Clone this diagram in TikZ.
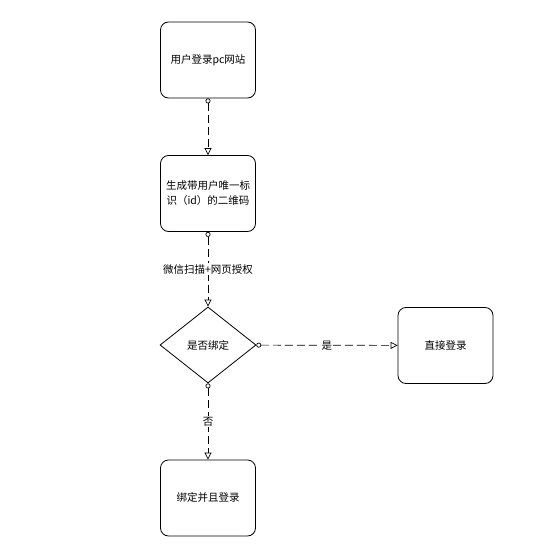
\documentclass[tikz,border=0pt]{standalone}
\usepackage{fontspec}
\setmainfont{Noto Sans CJK SC}
\usepackage{tikz}
\usetikzlibrary{shapes.geometric,arrows.meta}

\tikzset{
  flowbox/.style={draw, rounded corners=8pt, line width=0.8pt, minimum width=95pt, minimum height=76pt, align=center, font=\fontsize{10.5}{15}\selectfont},
  choice/.style={draw, diamond, line width=0.8pt, minimum width=96pt, minimum height=76pt, inner sep=0pt, font=\fontsize{10.5}{15}\selectfont},
  link/.style={dashed, dash pattern=on 8pt off 4pt, line width=0.7pt, {Circle[open,length=5pt]}-{Triangle[open,length=7pt,width=7pt]}},
  linklabel/.style={midway, fill=white, inner sep=1pt, font=\fontsize{10.5}{15}\selectfont}
}

\begin{document}
\begin{tikzpicture}[x=1pt, y=-1pt]
    \useasboundingbox (0,0) rectangle (546,556);
    \node[flowbox] (login) at (208,60) {用户登录pc网站};
    \node[flowbox] (qrcode) at (208,193.5) {生成带用户唯一标\\识（id）的二维码};
    \node[choice] (bound) at (208,345) {是否绑定};
    \node[flowbox] (direct) at (445.5,345.5) {直接登录};
    \node[flowbox] (bindlogin) at (208,498) {绑定并且登录};
    \draw[link] (login)--(qrcode);
    \draw[link] (qrcode)--(bound) node[linklabel] {微信扫描+网页授权};
    \draw[link] (bound)--(direct) node[linklabel] {是};
    \draw[link] (bound)--(bindlogin) node[linklabel] {否};
  \end{tikzpicture}
\end{document}
